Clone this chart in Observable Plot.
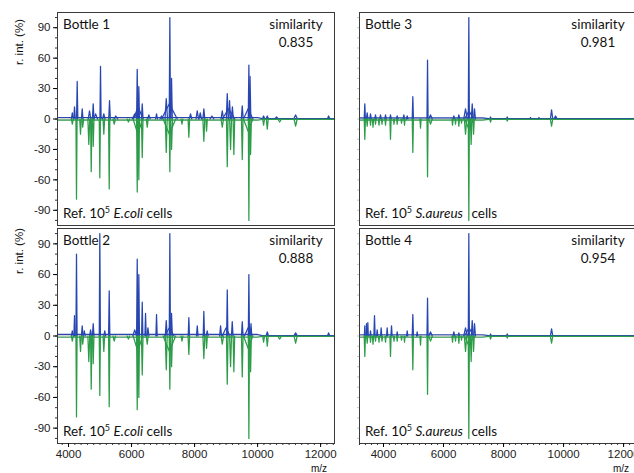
<!DOCTYPE html>
<html><head><meta charset="utf-8">
<script src="https://cdn.jsdelivr.net/npm/d3@7"></script>
<script src="https://cdn.jsdelivr.net/npm/@observablehq/plot@0.6"></script>
<style>
html,body{margin:0;padding:0;background:#fff;overflow:hidden;width:634px;height:473px}
#wrap{position:relative;width:634px;height:473px;overflow:hidden}
#wrap svg{position:absolute;overflow:visible;background:transparent}
</style></head><body><div id="wrap"></div>
<script>
// ---- axis ticks ----
const xTicks = [4000, 6000, 8000, 10000, 12000];
const yTicks = [-90, -60, -30, 0, 30, 60, 90];

// ---- Bottle 1 (sample) ----
const b1Mz  = [4120,4190,4275,4434,4666,4783,4860,5015,5120,5301,5500,6100,6180,6210,6231,6339,6550,6793,6950,7101,7200,7215,7269,7872,8085,8180,8294,8550,8879,9037,9080,9110,9200,9513,9700,9723,9760,10190,10307,10600,11206,12253];
const b1Int = [6,12,37,10,8,15,5,52,5,18,3,5,49,12,32,15,4,5,3,20,15,100,40,5,8,6,10,3,8,25,10,18,12,13,10,53,42,3,3,2,4,3];
const b1W   = [30,25,20,25,40,25,60,18,40,25,60,80,20,150,20,25,40,30,50,40,250,20,25,40,40,40,30,60,40,30,200,30,30,30,150,20,25,40,40,60,60,40];

// ---- Bottle 2 (sample) ----
const b2Mz  = [4120,4190,4253,4434,4500,4700,4783,4993,5150,5291,6100,6180,6231,6339,6444,6520,6793,7101,7200,7215,7269,7818,8085,8294,8400,8825,9000,9037,9195,9513,9700,9723,9790,10307,11206,12253];
const b2Int = [5,20,80,10,5,6,12,100,5,44,6,75,60,33,22,8,21,15,8,100,22,18,10,24,5,10,8,45,14,14,8,60,12,4,3,3];
const b2W   = [30,20,18,25,30,30,25,18,30,20,60,20,20,20,20,30,20,30,150,18,25,20,25,20,30,30,120,20,25,25,120,18,25,40,60,40];

// ---- Reference 10^5 E. coli cells (mirrored) ----
const ecMz  = [4120,4253,4380,4450,4644,4720,4783,4993,5120,5291,5450,5900,6180,6200,6231,6339,6498,7101,7200,7215,7269,7600,7818,8294,8380,8879,9037,9142,9247,9513,9700,9723,9777,10190,10307,10700,11206];
const ecInt = [-5,-79,-15,-8,-25,-52,-27,-58,-15,-69,-5,-3,-72,-15,-60,-38,-8,-33,-15,-52,-30,-5,-18,-22,-12,-8,-47,-30,-35,-40,-12,-100,-35,-6,-10,-3,-7];
const ecW   = [30,18,25,30,30,20,25,18,25,20,40,40,20,150,20,25,30,30,200,20,30,30,25,30,25,40,25,30,25,25,150,18,25,30,30,60,50];

// ---- Bottle 3 (sample) ----
const b3Mz  = [3377,3456,3567,3733,3900,4067,4233,4456,4678,4789,4977,5467,5567,6344,6511,6733,6843,6850,6956,7033,7567,8122,8900,9178,9600,9733];
const b3Int = [15,6,5,4,4,4,4,3,4,3,22,58,4,3,4,10,100,8,15,10,2,2,1.5,1.5,9,3];
const b3W   = [20,25,25,25,25,25,25,25,25,25,20,18,60,30,30,60,18,150,30,30,30,30,30,30,40,60];

// ---- Bottle 4 (sample) ----
const b4Mz  = [3377,3433,3478,3567,3700,3789,3922,4122,4267,4456,4789,4977,5122,5467,5567,6344,6511,6733,6843,6850,6956,7033,7567,8122,9600];
const b4Int = [10,12,13,5,20,6,8,8,10,4,5,21,4,37,4,4,3,8,100,8,15,12,2,2,7];
const b4W   = [15,15,15,20,20,20,20,20,20,20,20,20,20,18,60,30,30,60,18,150,30,30,30,30,40];

// ---- Reference 10^5 S. aureus cells (mirrored) ----
const saMz  = [3377,3456,3567,3650,3733,3850,3950,4067,4233,4350,4456,4600,4700,4977,5233,5467,5567,6300,6400,6511,6600,6733,6843,6850,6920,7000,7567,8122,9600];
const saInt = [-20,-7,-6,-8,-5,-6,-5,-6,-20,-5,-5,-4,-6,-33,-9,-57,-5,-6,-5,-7,-4,-15,-100,-10,-25,-15,-3,-2,-7];
const saW   = [20,20,20,20,20,20,20,20,20,20,20,20,20,20,20,18,60,20,20,20,20,40,18,150,25,25,30,30,40];

// ---- baselines ----
const ecBaseMz = [3650, 10000, 10150, 12440];
const ecSampleBase = [1.5, 1.5, 0.4, 0.4];
const ecRefBase = [-1.2, -1.2, -0.4, -0.4];
const saBaseMz = [3200, 7300, 7500, 12430];
const saSampleBase = [1.2, 1.2, 0.4, 0.4];
const saRefBase = [-1.2, -1.2, -0.4, -0.4];

// ---- labels ----
const bottles = ["Bottle 1", "Bottle 2", "Bottle 3", "Bottle 4"];
const similarities = ["0.835", "0.888", "0.981", "0.954"];
const species = ["E.coli", "E.coli", "S.aureus", "S.aureus"];

const BLUE = "#2846b2", GREEN = "#2c9c49";
const LABEL_FONT = "Lato, 'Open Sans', sans-serif";
const TICK_FONT = "'Liberation Sans', Arial, sans-serif";

function tri(mz, inten, w) {
  const rows = [];
  mz.forEach((m, i) => {
    rows.push({id: i, x: m - w[i], y: 0}, {id: i, x: m, y: inten[i]}, {id: i, x: m + w[i], y: 0});
  });
  return rows;
}
function base(mz, v) { return mz.map((m, i) => ({x: m, y: v[i]})); }

const wrap = document.getElementById("wrap");

function panel(c) {
  const marks = [
    Plot.ruleY([0], {stroke: "#c6c6c6", strokeWidth: 1.6}),
    Plot.line(base(c.baseMz, c.sBase), {x: "x", y: "y", stroke: BLUE, strokeWidth: 1.2}),
    Plot.line(tri(c.sMz, c.sInt, c.sW), {x: "x", y: "y", z: "id", stroke: BLUE, strokeWidth: 1.25}),
    Plot.line(base(c.baseMz, c.rBase), {x: "x", y: "y", stroke: GREEN, strokeWidth: 1.2}),
    Plot.line(tri(c.rMz, c.rInt, c.rW), {x: "x", y: "y", z: "id", stroke: GREEN, strokeWidth: 1.25}),
    Plot.frame({stroke: "#3a3a3a", strokeWidth: 1})
  ];
  const yMinor = d3.range(-100, 101, 10);
  if (c.yAxis) {
    marks.push(Plot.axisY(yMinor, {tickSize: 2, tickFormat: () => "", label: null, stroke: "#333"}));
    marks.push(Plot.axisY(yTicks, {tickSize: 4, tickPadding: 3, fontSize: 11.5, label: null, fill: "#222", tickFormat: d => String(d)}));
  } else {
    marks.push(Plot.axisY(yMinor, {tickSize: 2, tickFormat: () => "", label: null, stroke: "#c4c4c4"}));
  }
  if (c.xAxis) {
    const xMinor = d3.range(Math.ceil(c.xDomain[0] / 200) * 200, c.xDomain[1], 200);
    marks.push(Plot.axisX(xMinor, {tickSize: 2, tickFormat: () => "", label: null, stroke: "#333"}));
    marks.push(Plot.axisX(xTicks, {tickSize: 4, tickPadding: 2, fontSize: 11.5, label: null, tickFormat: d => String(d), fill: "#222"}));
  }
  const svg = Plot.plot({
    width: c.width, height: c.height,
    marginLeft: c.mL, marginTop: c.mT, marginRight: c.mR, marginBottom: c.mB,
    x: {domain: c.xDomain, label: null, axis: c.xAxis ? undefined : null},
    y: {domain: [-105, 105], label: null},
    clip: true,
    style: {fontFamily: TICK_FONT, fontSize: "11.5px", background: "transparent", overflow: "visible"},
    marks
  });
  svg.style.left = c.left + "px";
  svg.style.top = c.top + "px";
  const g = d3.select(svg);
  const fl = c.mL, fr = c.width - c.mR, ft = c.mT, fb = c.height - c.mB;
  // texts below the spectra
  g.insert("text", ":first-child").attr("x", fl + 6).attr("y", ft + 17).attr("text-anchor", "start")
    .attr("font-family", LABEL_FONT).attr("font-size", 13.5).attr("fill", "#111").text(c.bottle);
  const ts = g.insert("text", ":first-child").attr("text-anchor", "middle")
    .attr("font-family", LABEL_FONT).attr("font-size", 13.5).attr("fill", "#111");
  ts.append("tspan").attr("x", fr - 38).attr("y", ft + 17).text("similarity");
  ts.append("tspan").attr("x", fr - 38).attr("y", ft + 35).text(c.sim);
  const tr = g.insert("text", ":first-child").attr("x", fl + 6).attr("y", fb - 7).attr("text-anchor", "start")
    .attr("font-family", LABEL_FONT).attr("font-size", 13.5).attr("fill", "#111");
  tr.append("tspan").text("Ref. 10");
  tr.append("tspan").attr("dy", -5).attr("font-size", 9).text("5");
  tr.append("tspan").attr("dy", 5).text(" ");
  tr.append("tspan").attr("font-style", "italic").text(c.species);
  tr.append("tspan").attr("dx", c.gap).text(" cells");
  if (c.yAxis) {
    g.append("text").attr("transform", `translate(${c.yLabX},${c.yLabY}) rotate(-90)`)
      .attr("text-anchor", "middle").attr("font-size", 11.5).attr("fill", "#111").text("r. int. (%)");
  }
  if (c.xAxis) {
    g.append("text").attr("x", fr - 15).attr("y", c.height - 1.5).attr("text-anchor", "middle")
      .attr("font-size", 10).attr("fill", "#111").text("m/z");
  }
  wrap.appendChild(svg);
}

const leftDomain = [3650, 12440];
const rightDomain = [3200, 12430];

panel({left: 0, top: 0, width: 340, height: 227, mL: 57, mT: 12, mR: 6, mB: 2, xDomain: leftDomain,
  sMz: b1Mz, sInt: b1Int, sW: b1W, rMz: ecMz, rInt: ecInt, rW: ecW,
  baseMz: ecBaseMz, sBase: ecSampleBase, rBase: ecRefBase,
  bottle: bottles[0], sim: similarities[0], species: species[0], gap: 0,
  yAxis: true, xAxis: false, yLabX: 23, yLabY: 42});
panel({left: 0, top: 227, width: 340, height: 246, mL: 57, mT: 1, mR: 6, mB: 30, xDomain: leftDomain,
  sMz: b2Mz, sInt: b2Int, sW: b2W, rMz: ecMz, rInt: ecInt, rW: ecW,
  baseMz: ecBaseMz, sBase: ecSampleBase, rBase: ecRefBase,
  bottle: bottles[1], sim: similarities[1], species: species[1], gap: 0,
  yAxis: true, xAxis: true, yLabX: 23, yLabY: 24});
panel({left: 340, top: 0, width: 300, height: 227, mL: 19, mT: 12, mR: 4, mB: 2, xDomain: rightDomain,
  sMz: b3Mz, sInt: b3Int, sW: b3W, rMz: saMz, rInt: saInt, rW: saW,
  baseMz: saBaseMz, sBase: saSampleBase, rBase: saRefBase,
  bottle: bottles[2], sim: similarities[2], species: species[2], gap: 5,
  yAxis: false, xAxis: false});
panel({left: 340, top: 227, width: 300, height: 246, mL: 19, mT: 1, mR: 4, mB: 30, xDomain: rightDomain,
  sMz: b4Mz, sInt: b4Int, sW: b4W, rMz: saMz, rInt: saInt, rW: saW,
  baseMz: saBaseMz, sBase: saSampleBase, rBase: saRefBase,
  bottle: bottles[3], sim: similarities[3], species: species[3], gap: 5,
  yAxis: false, xAxis: true});
</script>
</body></html>
